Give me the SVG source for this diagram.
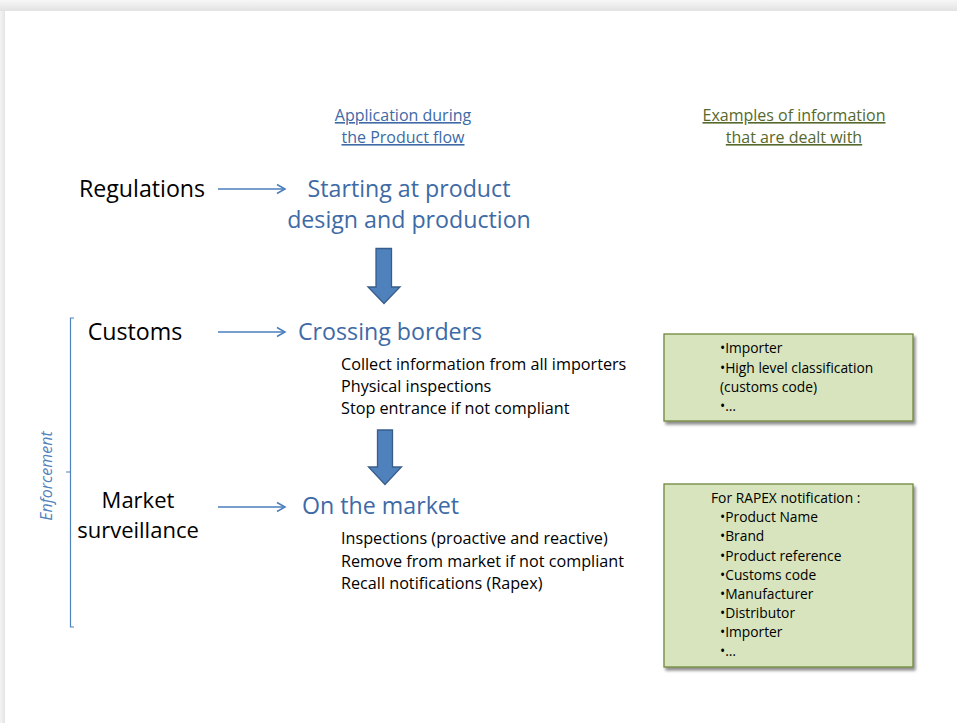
<svg xmlns="http://www.w3.org/2000/svg" width="957" height="723" viewBox="0 0 957 723">
<defs>
<linearGradient id="topband" x1="0" y1="0" x2="0" y2="1">
<stop offset="0" stop-color="#f7f7f7"/>
<stop offset="1" stop-color="#e2e2e2"/>
</linearGradient>
<linearGradient id="leftband" x1="0" y1="0" x2="1" y2="0">
<stop offset="0" stop-color="#f4f4f4"/>
<stop offset="1" stop-color="#e4e4e4"/>
</linearGradient>
<marker id="chev" markerWidth="12" markerHeight="12" refX="9" refY="6" orient="auto" markerUnits="userSpaceOnUse">
<path d="M1,1.5 L9,6 L1,10.5" fill="none" stroke="#4a7ebb" stroke-width="1.5"/>
</marker>
<filter id="shadow" x="-5%" y="-5%" width="115%" height="120%">
<feGaussianBlur in="SourceAlpha" stdDeviation="1.5"/>
<feOffset dx="2" dy="3" result="b"/>
<feComponentTransfer><feFuncA type="linear" slope="0.45"/></feComponentTransfer>
<feMerge><feMergeNode/><feMergeNode in="SourceGraphic"/></feMerge>
</filter>
</defs>
<style>
text{font-family:"Open Sans","Noto Sans","Liberation Sans",sans-serif}
.big{font-size:23.2px}
.blk{fill:#000000}
.blue{fill:#3e6aa6}
.body{font-size:16.2px;fill:#000}
.head{font-size:16px}
.hblue{fill:#3e6aa6}
.hgreen{fill:#56692c}
.box{fill:#d7e4bd;stroke:#6f873c;stroke-width:1.3}
.btxt{font-size:13.8px;fill:#000}
.conn{stroke:#4a7ebb;stroke-width:1.5;fill:none}
.barrow{fill:#4f81bd;stroke:#385d8a;stroke-width:1.3}
.brk{stroke:#4f81bd;stroke-width:1.2;fill:none}
</style>
<rect x="0" y="0" width="957" height="723" fill="#ececec"/>
<rect x="0" y="0" width="957" height="11" fill="url(#topband)"/>
<rect x="0" y="11" width="5" height="712" fill="url(#leftband)"/>
<rect x="5" y="11" width="952" height="712" fill="#ffffff"/>

<g id="header-application">
<text class="head hblue" x="403" y="121" text-anchor="middle" text-decoration="underline">Application during</text>
<text class="head hblue" x="403" y="143" text-anchor="middle" text-decoration="underline">the Product flow</text>
</g>
<g id="header-examples">
<text class="head hgreen" x="794" y="121" text-anchor="middle" text-decoration="underline">Examples of information</text>
<text class="head hgreen" x="794" y="143" text-anchor="middle" text-decoration="underline">that are dealt with</text>
</g>

<g id="regulations"><text class="big blk" x="142" y="197" text-anchor="middle">Regulations</text></g>
<g id="design">
<text class="big blue" x="409" y="197" text-anchor="middle">Starting at product</text>
<text class="big blue" x="409" y="228" text-anchor="middle">design and production</text>
</g>

<g id="customs"><text class="big blk" x="135" y="340" text-anchor="middle">Customs</text></g>
<g id="crossing">
<text class="big blue" x="298" y="340">Crossing borders</text>
<text class="body" x="341" y="370">Collect information from all importers</text>
<text class="body" x="341" y="392">Physical inspections</text>
<text class="body" x="341" y="414">Stop entrance if not compliant</text>
</g>

<g id="market-surveillance">
<text class="blk" x="138" y="508" text-anchor="middle" font-size="22">Market</text>
<text class="blk" x="138" y="538" text-anchor="middle" font-size="22">surveillance</text>
</g>
<g id="on-market">
<text class="big blue" x="302" y="514">On the market</text>
<text class="body" x="341" y="544">Inspections (proactive and reactive)</text>
<text class="body" x="341" y="567">Remove from market if not compliant</text>
<text class="body" x="341" y="589">Recall notifications (Rapex)</text>
</g>

<g id="enforcement">
<path class="brk" d="M74,318 H70.5 V627 H74 M70.5,472 H66"/>
<text x="52" y="476" transform="rotate(-90 52 476)" text-anchor="middle" font-size="16" font-style="italic" fill="#4f81bd">Enforcement</text>
</g>

<g id="box-customs">
<rect class="box" x="664" y="334" width="249" height="87" filter="url(#shadow)"/>
<text class="btxt" x="720" y="353">•Importer</text>
<text class="btxt" x="720" y="373">•High level classification</text>
<text class="btxt" x="720" y="392">(customs code)</text>
<text class="btxt" x="720" y="411">•…</text>
</g>

<g id="box-rapex">
<rect class="box" x="664" y="484" width="249" height="183" filter="url(#shadow)"/>
<text class="btxt" x="711" y="503">For RAPEX notification :</text>
<text class="btxt" x="720" y="522">•Product Name</text>
<text class="btxt" x="720" y="541">•Brand</text>
<text class="btxt" x="720" y="561">•Product reference</text>
<text class="btxt" x="720" y="580">•Customs code</text>
<text class="btxt" x="720" y="599">•Manufacturer</text>
<text class="btxt" x="720" y="618">•Distributor</text>
<text class="btxt" x="720" y="637">•Importer</text>
<text class="btxt" x="720" y="656">•…</text>
</g>

<g id="connectors">
<line class="conn" x1="218" y1="189" x2="285" y2="189" marker-end="url(#chev)"/>
<line class="conn" x1="218" y1="332" x2="285" y2="332" marker-end="url(#chev)"/>
<line class="conn" x1="218" y1="507" x2="285" y2="507" marker-end="url(#chev)"/>
<path class="barrow" d="M376,248.5 H391.5 V287 H400 L384,303.5 L368,287 H376 Z"/>
<path class="barrow" d="M377.5,430 H392.5 V467 H401.5 L385,484.5 L368.5,467 H377.5 Z"/>
</g>
</svg>
